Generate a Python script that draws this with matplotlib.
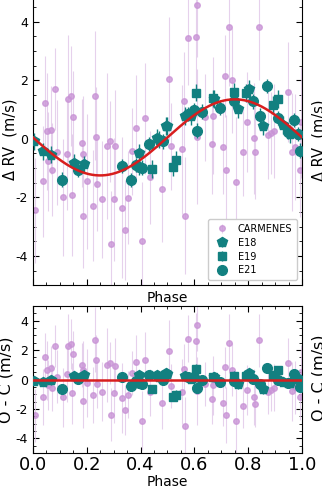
import numpy as np
import matplotlib.pyplot as plt
from matplotlib.ticker import MultipleLocator

plt.rcParams['axes.unicode_minus'] = False

# CARMENES (phase, RV, error)
car_phase = [0.007, 0.036, 0.045, 0.053, 0.057, 0.066, 0.070, 0.082, 0.090, 0.113,
             0.128, 0.131, 0.141, 0.144, 0.148, 0.183, 0.185, 0.187, 0.203, 0.224,
             0.230, 0.233, 0.240, 0.257, 0.274, 0.286, 0.290, 0.302, 0.305, 0.331,
             0.341, 0.354, 0.370, 0.383, 0.404, 0.416, 0.437, 0.478, 0.506, 0.513,
             0.553, 0.563, 0.565, 0.578, 0.606, 0.608, 0.610, 0.639, 0.664, 0.668,
             0.705, 0.714, 0.717, 0.729, 0.739, 0.755, 0.782, 0.794, 0.823, 0.826,
             0.841, 0.875, 0.885, 0.897, 0.947, 0.962, 0.974, 0.993, 0.995]
car_rv = [-2.44, -1.45, 1.22, 0.26, -0.77, 0.31, -1.05, 1.69, -0.46, -2.00,
          -0.53, 1.36, 1.46, -1.92, 0.73, -0.15, -0.53, -2.62, -1.45, -2.29,
          1.48, 0.06, -1.56, -2.07, -0.24, -0.09, -3.59, -2.07, -0.24, -2.35,
          -3.12, -2.01, -0.43, 0.38, -3.48, 0.70, -1.32, -1.71, 2.06, -0.26,
          -0.36, 1.28, -2.62, 3.45, 3.47, 4.58, 0.08, 0.73, -0.17, 0.79,
          -0.29, 2.15, -1.07, 3.81, 2.00, -1.47, -0.45, 0.57, 0.02, -0.45,
          3.81, 0.14, 0.19, 0.26, 1.60, -0.45, -0.28, -1.07, 0.57]
car_err = [1.8, 1.9, 1.6, 2.0, 1.7, 1.5, 1.6, 1.4, 1.8, 2.0,
           1.9, 2.2, 1.7, 2.1, 1.6, 1.5, 2.0, 1.8, 2.3, 1.9,
           2.2, 1.7, 1.6, 2.0, 2.5, 1.4, 1.8, 2.1, 1.9, 2.4,
           1.7, 1.6, 1.5, 1.8, 2.0, 1.9, 1.6, 1.8, 2.1, 1.5,
           2.2, 1.7, 2.0, 1.6, 1.9, 1.8, 2.3, 1.5, 1.7, 2.0,
           1.6, 1.4, 1.9, 2.0, 1.8, 2.2, 1.5, 1.7, 1.9, 1.6,
           1.8, 1.5, 1.4, 1.6, 1.7, 2.0, 1.8, 1.6, 1.9]

# ESPRESSO E18
e18_phase = [0.004, 0.038, 0.068, 0.154, 0.191, 0.395, 0.460, 0.470, 0.493, 0.500,
             0.565, 0.587, 0.673, 0.763, 0.804, 0.854, 0.928, 0.955]
e18_rv = [-0.09, -0.43, -0.54, -0.81, -0.87, -0.47, 0.03, -0.03, 0.43, 0.43,
          0.79, 0.77, 1.36, 1.02, 1.72, 0.43, 0.47, 0.17]
e18_err = [0.3] * len(e18_phase)

# ESPRESSO E19
e19_phase = [0.444, 0.519, 0.532, 0.606, 0.668, 0.747, 0.792, 0.893, 0.910]
e19_rv = [-1.04, -0.96, -0.73, 1.58, 1.38, 1.60, 1.56, 1.15, 1.36]
e19_err = [0.3] * len(e19_phase)

# ESPRESSO E21
e21_phase = [0.109, 0.166, 0.330, 0.363, 0.383, 0.395, 0.404, 0.432, 0.485, 0.577,
             0.599, 0.611, 0.627, 0.695, 0.747, 0.819, 0.844, 0.869, 0.912, 0.949,
             0.970, 0.986, 0.993]
e21_rv = [-1.40, -1.06, -0.93, -1.41, -0.90, -0.97, -0.98, -0.17, -0.09, 0.85,
          0.99, 0.28, 0.93, 1.07, 1.28, 1.28, 0.79, 1.81, 0.71, 0.23,
          0.65, 0.17, -0.40]
e21_err = [0.25] * len(e21_phase)

# Keplerian model (circular)
K = 1.3
V0 = 0.05


def model(ph):
    return V0 - K * np.sin(2 * np.pi * np.asarray(ph))


purple = '#c994d6'
purple_err = '#e0c6e8'
teal = '#128080'
red = '#d81e1e'

fig = plt.figure(figsize=(3.22, 4.90), dpi=100)
ax1 = fig.add_axes([0.102, 0.418, 0.836, 0.5973])
ax2 = fig.add_axes([0.102, 0.0755, 0.836, 0.300])

sets = [
    ('CARMENES', car_phase, car_rv, car_err, 'o', purple, purple_err, 4.0),
    ('E18', e18_phase, e18_rv, e18_err, 'p', teal, teal, 7.0),
    ('E19', e19_phase, e19_rv, e19_err, 's', teal, teal, 6.4),
    ('E21', e21_phase, e21_rv, e21_err, 'o', teal, teal, 7.0),
]

ph_line = np.linspace(0, 1, 400)
for ax, resid in [(ax1, False), (ax2, True)]:
    for name, ph, rv, err, mk, c, ec, ms in sets:
        y = np.array(rv) - model(ph) if resid else np.array(rv)
        carm = name == 'CARMENES'
        ax.errorbar(ph, y, yerr=err, fmt=mk, color=c, ecolor=ec, ms=ms,
                    elinewidth=0.8 if carm else 1.0, capsize=0,
                    alpha=0.8 if carm else 1, label=name,
                    zorder=2 if carm else 3)
    if resid:
        ax.plot([0, 1], [0, 0], color=red, lw=1.8, zorder=4)
    else:
        ax.plot(ph_line, model(ph_line), color=red, lw=1.8, zorder=4)
    ax.set_xlim(0, 1)
    ax.set_ylim(-5, 5)
    ax.xaxis.set_major_locator(MultipleLocator(0.2))
    ax.xaxis.set_minor_locator(MultipleLocator(0.05))
    ax.yaxis.set_major_locator(MultipleLocator(2))
    ax.yaxis.set_minor_locator(MultipleLocator(0.5))
    ax.tick_params(which='both', direction='in', top=True, right=True)
    ax.tick_params(which='major', length=4, width=0.8)
    ax.tick_params(which='minor', length=2, width=0.6)
    ax.tick_params(axis='y', labelsize=9)
    ax.set_xlabel('Phase', fontsize=10, labelpad=1)

ax1.tick_params(axis='x', labelbottom=False)
ax2.tick_params(axis='x', labelsize=13, pad=2)
ax1.set_ylabel('Δ RV  (m/s)', fontsize=10.5)
ax2.set_ylabel('O - C (m/s)', fontsize=11.5)
ax1.yaxis.set_label_coords(-0.058, 0.5)
ax2.yaxis.set_label_coords(-0.072, 0.5)

ax1.legend(loc='lower right', fontsize=7, handletextpad=0.6, borderpad=0.5,
           labelspacing=0.4, frameon=True, framealpha=1, edgecolor='#cccccc')

# neighbouring panel labels, cut by the figure edge
fig.text(0.966, 1 - 140 / 490, 'Δ RV  (m/s)', rotation=90, va='center', ha='left', fontsize=10.5)
fig.text(0.966, 1 - 378 / 490, 'O - C (m/s)', rotation=90, va='center', ha='left', fontsize=11.5)

fig.savefig('out.png', dpi=100)
